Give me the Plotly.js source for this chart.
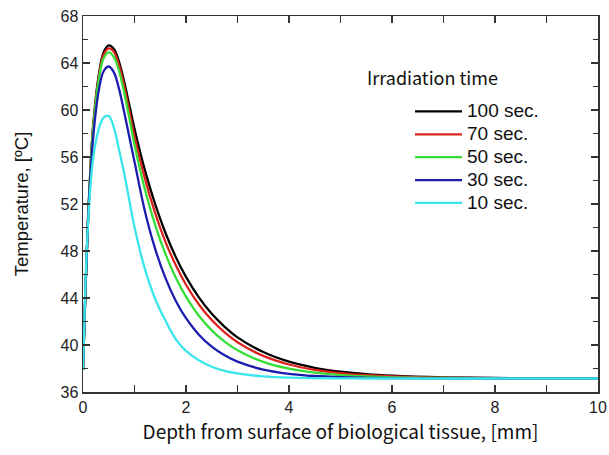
<!DOCTYPE html>
<html>
<head>
<meta charset="utf-8">
<script src="https://cdn.plot.ly/plotly-3.0.1.min.js"></script>
<style>html,body{margin:0;padding:0;background:#fff;}#chart{width:609px;height:455px;}</style>
</head>
<body>
<div id="chart"></div>
<script>
// Depth from surface [mm]
const depth = [0, 0.05, 0.1, 0.15, 0.2, 0.3, 0.4, 0.5, 0.6, 0.7, 0.8, 0.9, 1.0, 1.2, 1.4, 1.6, 1.8, 2.0, 2.25, 2.5, 2.75, 3.0, 3.5, 4.0, 4.5, 5.0, 5.5, 6.0, 7.0, 8.0, 9.0, 10.0];
// Temperature [°C] for each irradiation time
const t100 = [37.9, 45.0, 51.0, 55.5, 58.8, 62.8, 64.9, 65.5, 65.2, 64.1, 62.4, 60.4, 58.4, 54.9, 52.0, 49.55, 47.5, 45.8, 44.05, 42.65, 41.55, 40.65, 39.4, 38.58, 38.06, 37.73, 37.52, 37.39, 37.25, 37.19, 37.17, 37.16];
const t70  = [37.9, 45.0, 51.0, 55.4, 58.7, 62.6, 64.7, 65.25, 64.95, 63.8, 62.0, 59.9, 57.75, 54.2, 51.25, 48.8, 46.8, 45.13, 43.45, 42.12, 41.07, 40.24, 39.07, 38.34, 37.89, 37.61, 37.43, 37.33, 37.22, 37.18, 37.16, 37.15];
const t50  = [37.9, 45.0, 51.0, 55.3, 58.5, 62.4, 64.4, 64.9, 64.5, 63.3, 61.5, 59.3, 57.05, 53.28, 50.23, 47.75, 45.75, 44.12, 42.49, 41.25, 40.29, 39.55, 38.56, 37.98, 37.64, 37.44, 37.32, 37.25, 37.19, 37.16, 37.15, 37.15];
const t30  = [37.9, 45.0, 50.8, 54.8, 57.8, 61.5, 63.3, 63.7, 63.2, 61.8, 59.8, 57.7, 55.6, 51.43, 48.2, 45.71, 43.77, 42.28, 40.88, 39.86, 39.12, 38.58, 37.91, 37.55, 37.36, 37.26, 37.21, 37.18, 37.16, 37.15, 37.15, 37.15];
const t10  = [37.9, 45.5, 50.5, 53.8, 56.0, 58.3, 59.35, 59.5, 58.5, 56.6, 54.6, 52.3, 50.05, 46.5, 43.94, 42.08, 40.5, 39.5, 38.7, 38.15, 37.8, 37.58, 37.33, 37.22, 37.18, 37.16, 37.15, 37.15, 37.15, 37.15, 37.15, 37.15];

const seriesNames = ['100 sec.', '70 sec.', '50 sec.', '30 sec.', '10 sec.'];
const seriesData = [t100, t70, t50, t30, t10];
const seriesColors = ['#000000', '#dc241e', '#36dd36', '#1c1cae', '#3ae6ea'];

const traces = seriesData.map((y, i) => ({
  x: depth, y: y, type: 'scatter', mode: 'lines',
  name: '<span style="font-size:19px">' + seriesNames[i] + '</span>',
  line: {color: seriesColors[i], width: 2.3, shape: 'spline', smoothing: 1}
}));

const tickFont = {family: 'Liberation Sans, Arial, sans-serif', size: 16, color: '#222'};
const jpFont = {family: 'Noto Sans CJK JP, sans-serif', size: 18, color: '#111'};

const layout = {
  width: 609, height: 455,
  margin: {l: 83, r: 11, t: 16, b: 63},
  paper_bgcolor: '#fff', plot_bgcolor: '#fff',
  showlegend: true,
  legend: {
    x: 0.635, y: 0.79, xanchor: 'left', yanchor: 'top',
    bgcolor: 'rgba(0,0,0,0)', borderwidth: 0,
    font: {family: 'Liberation Sans, Arial, sans-serif', size: 15.3, color: '#111'},
    itemwidth: 47, tracegroupgap: 0
  },
  xaxis: {
    range: [0, 10], dtick: 2, tick0: 0,
    ticks: 'inside', ticklen: 7, tickwidth: 1.3, tickcolor: '#333',
    minor: {dtick: 1, ticks: 'inside', ticklen: 7, tickwidth: 1.3, tickcolor: '#333', showgrid: false},
    showline: true, linecolor: '#333', linewidth: 1.5, mirror: 'ticks',
    showgrid: false, zeroline: false,
    tickfont: tickFont,
    title: {text: 'Depth from surface of biological tissue, [mm]', font: {family: 'Noto Sans CJK JP, sans-serif', size: 19, color: '#111'}, standoff: 11}
  },
  yaxis: {
    range: [36, 68], dtick: 4, tick0: 36,
    ticks: 'inside', ticklen: 7, tickwidth: 1.3, tickcolor: '#333',
    minor: {dtick: 2, ticks: 'inside', ticklen: 5, tickwidth: 1.3, tickcolor: '#333', showgrid: false},
    showline: true, linecolor: '#333', linewidth: 1.5, mirror: 'ticks',
    showgrid: false, zeroline: false,
    tickfont: tickFont, ticklabelstandoff: -5.5,
    title: {text: 'Temperature, [ºC]', font: {family: 'Liberation Sans, Arial, sans-serif', size: 18.5, color: '#111'}, standoff: 27}
  },
  annotations: [{
    text: 'Irradiation time', xref: 'paper', yref: 'paper',
    x: (365 - 83) / 515, y: (392.5 - 77) / 376.5, xanchor: 'left', yanchor: 'middle',
    showarrow: false, font: jpFont
  }]
};

Plotly.newPlot('chart', traces, layout, {staticPlot: true, displayModeBar: false});
</script>
</body>
</html>
